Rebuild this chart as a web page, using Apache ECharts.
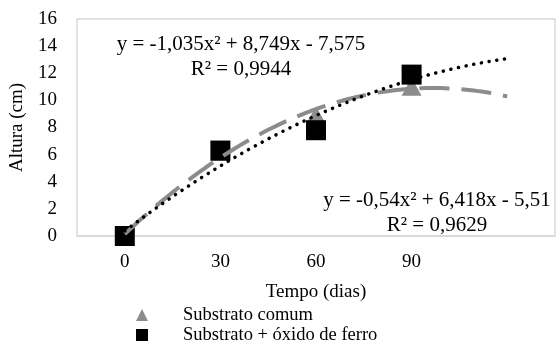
<!DOCTYPE html>
<html>
<head>
<meta charset="utf-8">
<script src="https://cdn.jsdelivr.net/npm/echarts@6/dist/echarts.min.js"></script>
<style>
  html, body { margin: 0; padding: 0; background: #fff; }
  #chart { width: 557px; height: 342px; }
</style>
</head>
<body>
<div id="chart"></div>
<script>
// eixo x (dias) e medias de altura
var dias = ['0', '30', '60', '90'];
var posicoes = [1, 2, 3, 4];
var comum = [0, 6.2, 8.9, 11.0];
var ferro = [0, 6.3, 7.8, 11.9];
var yTicks = [0, 2, 4, 6, 8, 10, 12, 14, 16];
var nomes = ['Substrato comum', 'Substrato + óxido de ferro'];

// coeficientes das linhas de tendencia (a, b, c) e R2, como no grafico
var coefComum = [-1.035, 8.749, -7.575];
var coefFerro = [-0.54, 6.418, -5.51];
var r2Comum = 0.9944;
var r2Ferro = 0.9629;
var previsao = 5; // tendencia estendida um periodo a frente

var fonte = "'Liberation Serif', 'Times New Roman', serif";

function curva(coef){
	var pts = [];
	for (var x = 1; x <= previsao + 0.001; x += 0.05) {
		pts.push([x, coef[0] * x * x + coef[1] * x + coef[2]]);
	}
	return pts;
}

function num(v){
	return String(v).replace('.', ',');
}

function equacao(coef){
	var s = 'y = ' + num(coef[0]) + 'x² ' + (coef[1] < 0 ? '- ' : '+ ') + num(Math.abs(coef[1])) + 'x ';
	s += (coef[2] < 0 ? '- ' : '+ ') + num(Math.abs(coef[2]));
	return s;
}

//uma legenda por linha, empilhadas
function legenda(nome, top){
	return {
		left: 131, top: top,
		itemWidth: 12, itemHeight: 12,
		data: [nome],
		textStyle: { color: '#000', fontSize: 18.5, fontFamily: fonte, lineHeight: 20, padding: [0, 0, 0, 30] }
	};
}

function rotulo(texto, x, y){
	return {
		type: 'text', x: x, y: y,
		style: { text: texto, font: '21px ' + fonte, fill: '#000', align: 'center', verticalAlign: 'middle' }
	};
}

var chart = echarts.init(document.getElementById('chart'));
var options = {
	animation: false,
	textStyle: { fontFamily: fonte },
	grid: {
		left: 77, right: 2, top: 19, bottom: 106,
		show: true, borderColor: '#d9d9d9', borderWidth: 1.5
	},
	xAxis: [
		{
			type: 'category',
			data: dias.concat(['']),
			boundaryGap: true,
			axisLine: { show: true, lineStyle: { color: '#d9d9d9', width: 1.5 } },
			axisTick: { show: false },
			axisLabel: { color: '#000', fontSize: 19, fontFamily: fonte, margin: 17 },
			name: 'Tempo (dias)',
			nameLocation: 'middle',
			nameGap: 47,
			nameTextStyle: { color: '#000', fontSize: 19, fontFamily: fonte }
		},
		{
			type: 'value', min: 0.5, max: previsao + 0.5, show: false
		}
	],
	yAxis: {
		type: 'value',
		min: yTicks[0], max: yTicks[yTicks.length - 1], interval: 2,
		axisLine: { show: false },
		axisTick: { show: false },
		splitLine: { show: false },
		axisLabel: { color: '#000', fontSize: 19, fontFamily: fonte, margin: 20 },
		name: 'Altura (cm)',
		nameLocation: 'middle',
		nameGap: 50,
		nameTextStyle: { color: '#000', fontSize: 19, fontFamily: fonte }
	},
	legend: [legenda(nomes[0], 300), legenda(nomes[1], 320)],
	series: [
		{
			name: nomes[0], type: 'scatter', xAxisIndex: 1,
			symbol: 'triangle', symbolSize: [20, 18],
			itemStyle: { color: '#8c8c8c', opacity: 1 },
			data: posicoes.map(function(p, i){ return [p, comum[i]]; }),
			z: 2
		},
		{
			name: nomes[1], type: 'scatter', xAxisIndex: 1,
			symbol: 'rect', symbolSize: 20,
			itemStyle: { color: '#000', opacity: 1 },
			data: posicoes.map(function(p, i){ return [p, ferro[i]]; }),
			z: 3
		},
		{
			name: 'tend comum', type: 'line', xAxisIndex: 1, showSymbol: false,
			data: curva(coefComum),
			lineStyle: { color: '#8c8c8c', width: 4, type: [30, 12], cap: 'butt' },
			z: 4
		},
		{
			name: 'tend ferro', type: 'line', xAxisIndex: 1, showSymbol: false,
			data: curva(coefFerro),
			lineStyle: { color: '#000', width: 3.5, type: [0.1, 7.7], cap: 'round' },
			z: 5
		}
	],
	// rotulos das equacoes
	graphic: [
		rotulo(equacao(coefComum), 241, 44),
		rotulo('R² = ' + num(r2Comum), 241, 69),
		rotulo(equacao(coefFerro), 437, 200),
		rotulo('R² = ' + num(r2Ferro), 437, 225)
	]
};

chart.setOption(options);
</script>
</body>
</html>
